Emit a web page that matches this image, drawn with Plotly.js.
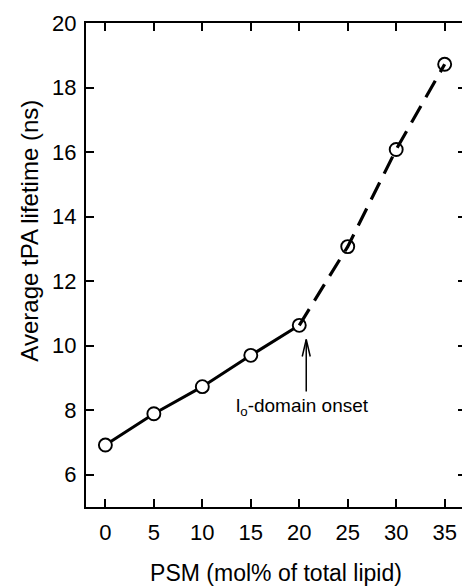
<!DOCTYPE html>
<html>
<head>
<meta charset="utf-8">
<script src="https://cdn.plot.ly/plotly-3.0.1.min.js"></script>
<style>
  html, body { margin: 0; padding: 0; background: #fff; overflow: hidden; }
  #chart { width: 466px; height: 586px; }
</style>
</head>
<body>
<div id="chart"></div>
<script>
// PSM content (mol% of total lipid) and average tPA fluorescence lifetime (ns)
const psmBelow = [0, 5, 10, 15, 20];
const lifetimeBelow = [6.92, 7.89, 8.73, 9.70, 10.63];
const psmAbove = [20, 25, 30, 35];
const lifetimeAbove = [10.63, 13.07, 16.08, 18.72];

const xTicks = [0, 5, 10, 15, 20, 25, 30, 35];
const yTicks = [6, 8, 10, 12, 14, 16, 18, 20];

// onset marker: arrow from tail to head at this composition
const onsetX = 20.72;
const onsetTail = 8.58;
const onsetHead = 10.19;
const onsetLabel = 'l<sub>o</sub>-domain onset';

const xTitle = 'PSM (mol% of total lipid)';
const yTitle = 'Average tPA lifetime (ns)';

const FONT = 'Liberation Sans, Arial, Helvetica, sans-serif';

const markerStyle = {
  symbol: 'circle',
  size: 13,
  color: '#ffffff',
  line: { color: '#000000', width: 1.9 }
};

const traces = [
  {
    x: psmBelow, y: lifetimeBelow,
    mode: 'lines', type: 'scatter',
    line: { color: '#000000', width: 3 },
    hoverinfo: 'skip'
  },
  {
    x: psmBelow.concat(psmAbove.slice(1)),
    y: lifetimeBelow.concat(lifetimeAbove.slice(1)),
    mode: 'markers', type: 'scatter',
    marker: markerStyle
  },
  {
    x: psmAbove, y: lifetimeAbove,
    mode: 'lines', type: 'scatter',
    line: { color: '#000000', width: 3.2, dash: '19px,10px' },
    hoverinfo: 'skip'
  }
];

const axisCommon = {
  showline: true, linecolor: '#000000', linewidth: 2,
  mirror: 'ticks',
  ticks: 'inside', ticklen: 8, tickwidth: 2, tickcolor: '#000000',
  showgrid: false, zeroline: false,
  tickfont: { family: FONT, size: 22, color: '#000000' }
};

const layout = {
  width: 466, height: 586,
  margin: { l: 86, r: 0, t: 23, b: 79 },
  paper_bgcolor: '#ffffff', plot_bgcolor: '#ffffff',
  showlegend: false,
  font: { family: FONT, color: '#000000' },
  xaxis: Object.assign({}, axisCommon, {
    range: [-2, 37.2],
    tickvals: xTicks,
    ticktext: xTicks.map(String),
    ticklabelstandoff: 5,
    title: { text: xTitle, font: { family: FONT, size: 23, color: '#000000' }, standoff: 20 }
  }),
  yaxis: Object.assign({}, axisCommon, {
    range: [5, 20],
    tickvals: yTicks,
    ticktext: yTicks.map(String),
    ticklabelstandoff: 3
  }),
  shapes: [
    {
      type: 'line', xref: 'x', yref: 'y',
      x0: onsetX, x1: onsetX, y0: onsetTail, y1: onsetHead,
      line: { color: '#000000', width: 1.5 }
    },
    {
      type: 'path', xref: 'x', yref: 'y',
      xsizemode: 'pixel', ysizemode: 'pixel',
      xanchor: onsetX, yanchor: onsetHead,
      path: 'M-4,-17 L0,0 L4,-17',
      line: { color: '#000000', width: 1.5 }
    }
  ],
  annotations: [
    {
      x: onsetX, y: onsetTail, xref: 'x', yref: 'y',
      text: onsetLabel, showarrow: false,
      xanchor: 'center', yanchor: 'top', xshift: -4, yshift: -2,
      font: { family: FONT, size: 19, color: '#000000' }
    },
    {
      // vertical axis title, placed a little above the plot's middle
      x: 0, y: 0.571, xref: 'paper', yref: 'paper',
      xanchor: 'center', yanchor: 'middle', xshift: -56,
      text: yTitle, textangle: -90, showarrow: false,
      font: { family: FONT, size: 24, color: '#000000' }
    }
  ]
};

Plotly.newPlot('chart', traces, layout, { staticPlot: true, displayModeBar: false });
</script>
</body>
</html>
